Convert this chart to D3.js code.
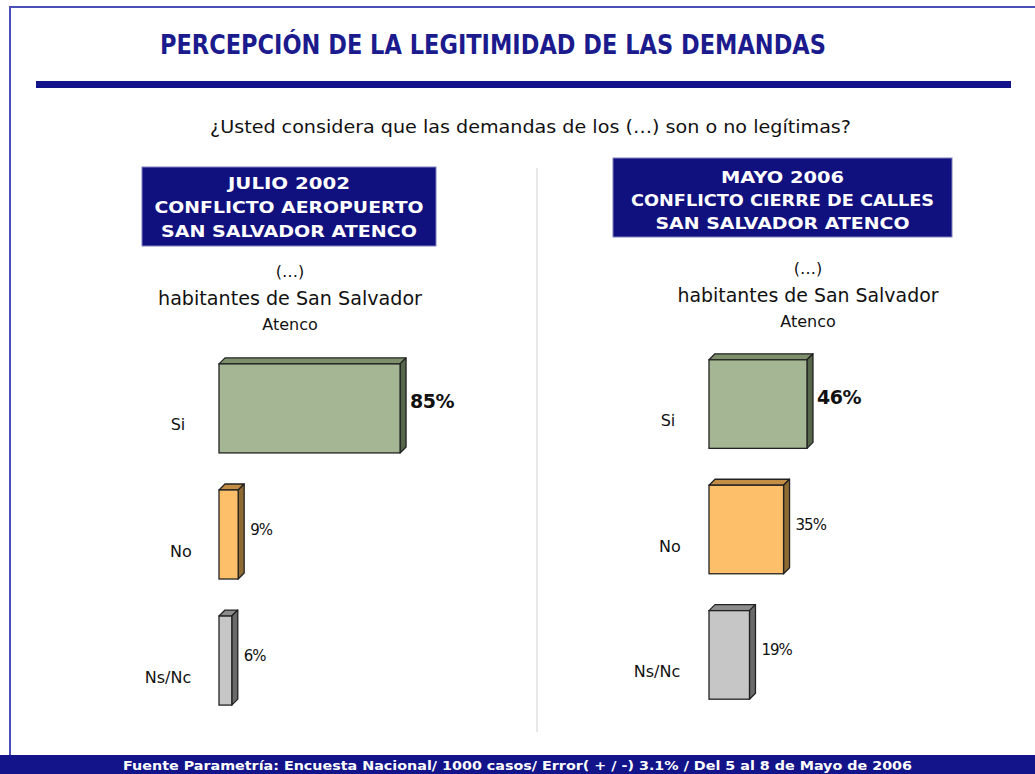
<!DOCTYPE html>
<html>
<head>
<meta charset="utf-8">
<script src="https://cdnjs.cloudflare.com/ajax/libs/d3/7.8.5/d3.min.js"></script>
<style>
  body { margin: 0; background: #fff; }
  svg { display: block; }
</style>
</head>
<body>
<script>
// data
let categories = ["Si", "No", "Ns/Nc"];
let julio2002 = [85, 9, 6];
let mayo2006 = [46, 35, 19];
let headerJulio = ["JULIO 2002", "CONFLICTO AEROPUERTO", "SAN SALVADOR ATENCO"];
let headerMayo = ["MAYO 2006", "CONFLICTO CIERRE DE CALLES", "SAN SALVADOR ATENCO"];
let subLines = ["(…)", "habitantes de San Salvador", "Atenco"];

let w = 1035;
let h = 774;
let depth = 6;
let navy = "#13148a";

let svg = d3.select("body")
            .append("svg")
            .attr("width", w)
            .attr("height", h);

// frame
svg.append("path")
   .attr("d", "M10,755 L10,7 L1035,7")
   .attr("fill", "none")
   .attr("stroke", "#4a4fb8")
   .attr("stroke-width", 2);

// title
svg.append("text")
   .text("PERCEPCIÓN DE LA LEGITIMIDAD DE LAS DEMANDAS")
   .attr("x", 160)
   .attr("y", 54)
   .attr("font-family", "'DejaVu Sans', sans-serif")
   .attr("font-weight", "bold")
   .attr("font-size", "26px")
   .attr("textLength", 666)
   .attr("lengthAdjust", "spacingAndGlyphs")
   .attr("fill", "#1b1b8e");

svg.append("rect")
   .attr("x", 36).attr("y", 81)
   .attr("width", 975).attr("height", 7)
   .attr("fill", navy);

svg.append("text")
   .text("¿Usted considera que las demandas de los (…) son o no legítimas?")
   .attr("x", 210)
   .attr("y", 133)
   .attr("font-family", "'DejaVu Sans', sans-serif")
   .attr("font-size", "17px")
   .attr("textLength", 641)
   .attr("lengthAdjust", "spacingAndGlyphs")
   .attr("fill", "#111");

// divider
svg.append("line")
   .attr("x1", 537).attr("x2", 537)
   .attr("y1", 168).attr("y2", 732)
   .attr("stroke", "#d0d0d0")
   .attr("stroke-width", 1);

// footer
svg.append("rect")
   .attr("x", 0).attr("y", 755)
   .attr("width", w).attr("height", 19)
   .attr("fill", navy);

svg.append("text")
   .text("Fuente Parametría: Encuesta Nacional/ 1000 casos/ Error( + / -) 3.1% / Del 5 al 8 de Mayo  de 2006")
   .attr("x", 123)
   .attr("y", 770)
   .attr("font-family", "'DejaVu Sans', sans-serif")
   .attr("font-weight", "bold")
   .attr("font-size", "13px")
   .attr("textLength", 789)
   .attr("lengthAdjust", "spacingAndGlyphs")
   .attr("fill", "#fff");

let x = d3.scaleLinear().domain([0, 100]).range([0, 213]);

let colors = {
  "Si":    { face: "#a4b693", side: "#56664a", top: "#7e8f6c" },
  "No":    { face: "#fdbf69", side: "#8e6a33", top: "#c48d45" },
  "Ns/Nc": { face: "#c6c6c6", side: "#6a6a6a", top: "#8c8c8c" }
};

let panels = [
  { values: julio2002, header: headerJulio,
    box: [142, 167, 294, 79], headY: [189, 213, 237], headW: [122, 269, 256],
    cx: 290, subY: [277, 305, 330], subW: [null, 264, null],
    x0: 219, yRange: [345, 724], labelX: [178, 181, 168] },
  { values: mayo2006, header: headerMayo,
    box: [613, 158, 339, 79], headY: [183, 206, 229], headW: [123, 303, 254],
    cx: 808, subY: [274, 302, 327], subW: [null, 261, null],
    x0: 709, yRange: [341, 718], labelX: [668, 670, 657] }
];

panels.forEach(function(p) {
  let g = svg.append("g");

  g.append("rect")
   .attr("x", p.box[0]).attr("y", p.box[1])
   .attr("width", p.box[2]).attr("height", p.box[3])
   .attr("fill", "#10107f")
   .attr("stroke", "#7f80c0")
   .attr("stroke-width", 1);

  g.selectAll("text.head")
   .data(p.header)
   .enter()
   .append("text")
   .attr("class", "head")
   .text(function(d) { return d; })
   .attr("x", p.box[0] + p.box[2] / 2)
   .attr("y", function(d, i) { return p.headY[i]; })
   .attr("text-anchor", "middle")
   .attr("font-family", "'DejaVu Sans', sans-serif")
   .attr("font-weight", "bold")
   .attr("font-size", "15px")
   .attr("textLength", function(d, i) { return p.headW[i]; })
   .attr("lengthAdjust", "spacingAndGlyphs")
   .attr("fill", "#fff");

  g.selectAll("text.sub")
   .data(subLines)
   .enter()
   .append("text")
   .attr("class", "sub")
   .text(function(d) { return d; })
   .attr("x", p.cx)
   .attr("y", function(d, i) { return p.subY[i]; })
   .attr("text-anchor", "middle")
   .attr("font-family", "'DejaVu Sans', sans-serif")
   .attr("font-size", function(d, i) { return i == 1 ? "19px" : "16px"; })
   .attr("textLength", function(d, i) { return p.subW[i]; })
   .attr("lengthAdjust", "spacingAndGlyphs")
   .attr("fill", "#111");

  let y = d3.scaleBand()
            .domain(categories)
            .range(p.yRange)
            .paddingInner(0.294)
            .paddingOuter(0.15);

  let bars = g.selectAll("g.bar")
              .data(p.values)
              .enter()
              .append("g")
              .attr("class", "bar");

  // top face
  bars.append("path")
      .attr("d", function(d, i) {
        let y0 = y(categories[i]), x1 = p.x0 + x(d);
        return "M" + p.x0 + "," + y0 + " L" + (p.x0 + depth) + "," + (y0 - depth) +
               " L" + (x1 + depth) + "," + (y0 - depth) + " L" + x1 + "," + y0 + "Z";
      })
      .attr("fill", function(d, i) { return colors[categories[i]].top; })
      .attr("stroke", "#222")
      .attr("stroke-width", 1.3)
      .attr("stroke-linejoin", "round");

  // side face
  bars.append("path")
      .attr("d", function(d, i) {
        let y0 = y(categories[i]), y1 = y0 + y.bandwidth(), x1 = p.x0 + x(d);
        return "M" + x1 + "," + y0 + " L" + (x1 + depth) + "," + (y0 - depth) +
               " L" + (x1 + depth) + "," + (y1 - depth) + " L" + x1 + "," + y1 + "Z";
      })
      .attr("fill", function(d, i) { return colors[categories[i]].side; })
      .attr("stroke", "#222")
      .attr("stroke-width", 1.3)
      .attr("stroke-linejoin", "round");

  // front face
  bars.append("rect")
      .attr("x", p.x0)
      .attr("y", function(d, i) { return y(categories[i]); })
      .attr("width", function(d) { return x(d); })
      .attr("height", y.bandwidth())
      .attr("fill", function(d, i) { return colors[categories[i]].face; })
      .attr("stroke", "#222")
      .attr("stroke-width", 1.3);

  // value labels
  bars.append("text")
      .text(function(d) { return d + "%"; })
      .attr("x", function(d, i) { return p.x0 + x(d) + depth + (i == 0 ? 4 : 6); })
      .attr("y", function(d, i) { return y(categories[i]) + y.bandwidth() / 2; })
      .attr("font-family", "'DejaVu Sans', sans-serif")
      .attr("font-weight", function(d, i) { return i == 0 ? "bold" : "normal"; })
      .attr("font-size", function(d, i) { return i == 0 ? "19px" : "15px"; })
      .attr("letter-spacing", function(d, i) { return i == 0 ? "-0.5px" : "-1px"; })
      .attr("fill", "#111");

  // category labels
  bars.append("text")
      .text(function(d, i) { return categories[i]; })
      .attr("x", function(d, i) { return p.labelX[i]; })
      .attr("y", function(d, i) { return y(categories[i]) + y.bandwidth() / 2 + 22; })
      .attr("text-anchor", "middle")
      .attr("font-family", "'DejaVu Sans', sans-serif")
      .attr("font-size", "16px")
      .attr("fill", "#111");
});
</script>
</body>
</html>
